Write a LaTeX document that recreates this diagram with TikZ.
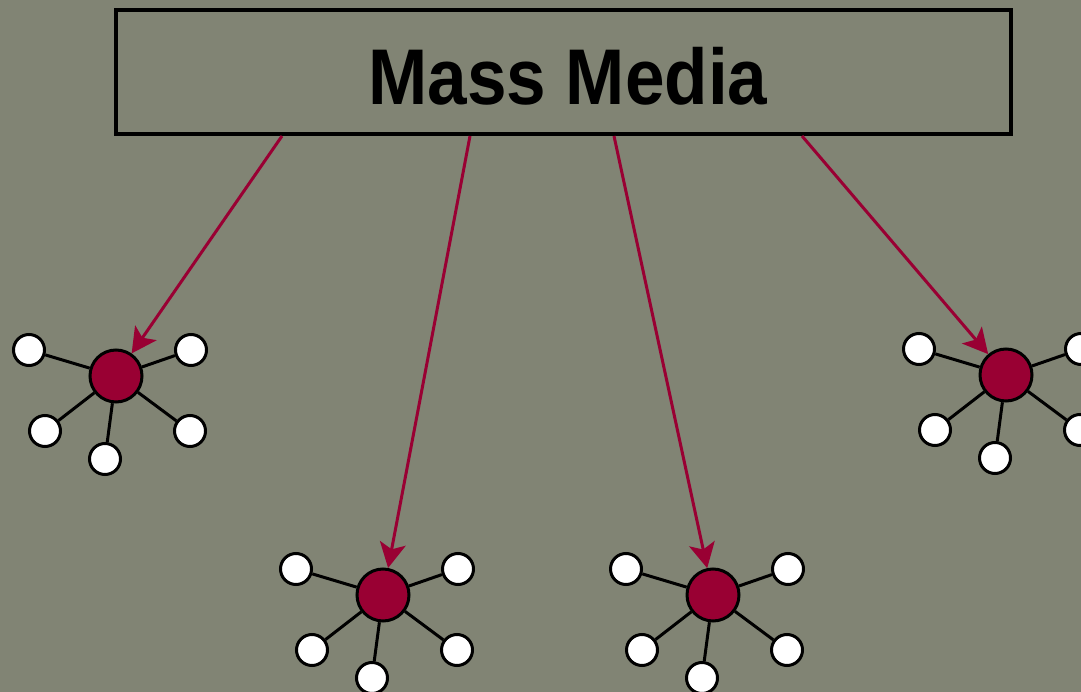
\documentclass[tikz,border=0pt]{standalone}
\usepackage{fontspec}
\setmainfont{Liberation Sans}
\usetikzlibrary{arrows.meta}
\definecolor{bgolive}{RGB}{129,132,116}
\definecolor{crimson}{RGB}{153,0,51}
\tikzset{
  mediabox/.style={draw=black, line width=4pt, minimum width=895pt, minimum height=124pt, inner sep=0pt},
  titletext/.style={inner sep=0pt, font=\bfseries\fontsize{79}{96}\selectfont},
  hub/.style={circle, draw=black, line width=3pt, fill=crimson, minimum size=52pt, inner sep=0pt},
  leaf/.style={circle, draw=black, line width=3pt, fill=white, minimum size=31pt, inner sep=0pt},
  spoke/.style={draw=black, line width=3pt},
  influence/.style={draw=crimson, line width=3pt, -{Stealth[length=25pt,width=26pt,inset=6pt]}}
}
\begin{document}
\begin{tikzpicture}[x=1pt,y=-1pt]
\fill[bgolive] (0,0) rectangle (1081,692);
\useasboundingbox (0,0) rectangle (1081,692);
\node[mediabox] (media) at (563.5,72) {};
\node[titletext] (title) at (568,76.5) {\scalebox{0.9}[1]{Mass Media}};
\foreach \n/\cx/\cy in {1/116/376, 2/383/595, 3/713/595, 4/1006/375}{
  \node[leaf] (h\n-tl) at (\cx-87,\cy-26) {};
  \node[leaf] (h\n-tr) at (\cx+75,\cy-26) {};
  \node[leaf] (h\n-bl) at (\cx-71,\cy+55) {};
  \node[leaf] (h\n-br) at (\cx+74,\cy+55) {};
  \node[leaf] (h\n-b) at (\cx-11,\cy+83) {};
  \node[hub] (h\n) at (\cx,\cy) {};
  \foreach \l in {tl,tr,bl,br,b}{
    \path[spoke] (h\n) -- (h\n-\l);
  }
}
\coordinate (s1) at (282,136);
\coordinate (s2) at (470,136);
\coordinate (s3) at (614,136);
\coordinate (s4) at (802,136);
\draw[influence] (s1) -- (h1);
\draw[influence] (s2) -- (h2);
\draw[influence] (s3) -- (h3);
\draw[influence] (s4) -- (h4);
\end{tikzpicture}
\end{document}
